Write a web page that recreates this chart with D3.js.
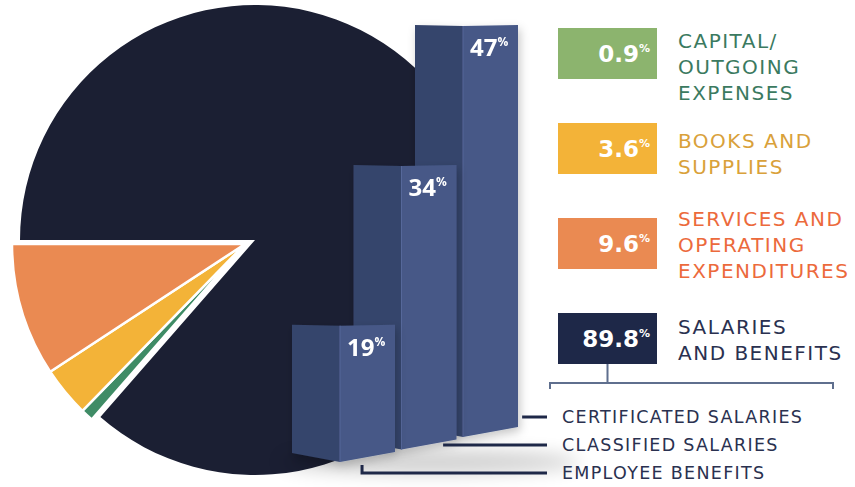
<!DOCTYPE html>
<html><head><meta charset="utf-8">
<script src="https://cdn.jsdelivr.net/npm/d3@7"></script>
<style>html,body{margin:0;padding:0;background:#fff;} svg{display:block}</style>
</head><body>
<svg id="chart" width="855" height="487"></svg>
<script>
// ---------- data ----------
const pieCategories = ["Capital/Outgoing Expenses", "Books and Supplies", "Services and Operating Expenditures", "Salaries and Benefits"];
const pieValues = [0.9, 3.6, 9.6, 89.8];
const pieLabels = [["CAPITAL/", "OUTGOING", "EXPENSES"], ["BOOKS AND", "SUPPLIES"], ["SERVICES AND", "OPERATING", "EXPENDITURES"], ["SALARIES", "AND BENEFITS"]];
const pieColors = ["#3f8c66", "#f3b338", "#ea8a52", "#1b1f33"];
const boxColors = ["#8cb46e", "#f3b338", "#ea8a52", "#1e2848"];
const textColors = ["#3b7a60", "#d9a13a", "#ec6a3c", "#2a3150"];

const barCategories = ["EMPLOYEE BENEFITS", "CLASSIFIED SALARIES", "CERTIFICATED SALARIES"];
const barValues = [19, 34, 47];

// ---------- layout ----------
const svg = d3.select("#chart");
const defs = svg.append("defs");
const sh = defs.append("filter").attr("id", "shadow").attr("x", "-30%").attr("y", "-30%").attr("width", "160%").attr("height", "160%");
sh.append("feDropShadow").attr("dx", 2).attr("dy", 4).attr("stdDeviation", 5).attr("flood-color", "#000").attr("flood-opacity", 0.22);
const blur = defs.append("filter").attr("id", "blur").attr("x", "-50%").attr("y", "-200%").attr("width", "200%").attr("height", "500%");
blur.append("feGaussianBlur").attr("stdDeviation", 9);

// ---------- pie ----------
const total = d3.sum(pieValues);
const smallSum = d3.sum(pieValues.slice(0, 3));
const start = 1.5 * Math.PI - 2 * Math.PI * smallSum / total;
const pie = d3.pie().sort(null).value(d => d).startAngle(start).endAngle(start + 2 * Math.PI);
const arcsData = pie(pieValues);

const darkArc = d3.arc().innerRadius(0).outerRadius(235);
const smallArc = d3.arc().innerRadius(0).outerRadius(233);

svg.append("g").attr("transform", "translate(255,240)")
  .append("path").attr("d", darkArc(arcsData[3])).attr("fill", pieColors[3]);

svg.append("g").attr("transform", "translate(245,244)")
  .selectAll("path").data(arcsData.slice(0, 3)).join("path")
  .attr("d", smallArc).attr("fill", (d, i) => pieColors[i])
  .attr("stroke", "#fff").attr("stroke-width", 2.5).attr("stroke-linejoin", "round");

// ---------- bars ----------
const xScale = d3.scalePoint().domain(barCategories).range([292, 415]);
const baseScale = d3.scalePoint().domain(barCategories).range([462, 437]);
const hScale = d3.scaleLinear().domain([5, 47]).range([0, 412]);
const barW = 103, leftW = 48;

// soft floor shadow
svg.append("ellipse").attr("cx", 430).attr("cy", 462).attr("rx", 150).attr("ry", 12)
  .attr("fill", "#000").attr("opacity", 0.18).attr("filter", "url(#blur)");

const barData = barCategories.map((c, i) => ({ c, v: barValues[i] })).reverse();
const bars = svg.selectAll("g.bar").data(barData).join("g").attr("class", "bar").attr("filter", "url(#shadow)");
bars.each(function (d) {
  const g = d3.select(this);
  const x0 = xScale(d.c), xm = x0 + leftW, x1 = x0 + barW;
  const b = baseScale(d.c), t = b - hScale(d.v);
  g.append("polygon").attr("points", [[x0, t], [xm, t + 1], [xm, b], [x0, b - 9]].join(" ")).attr("fill", "#36456c");
  g.append("polygon").attr("points", [[xm, t + 1], [x1, t], [x1, b - 10], [xm, b]].join(" ")).attr("fill", "#475887");
  g.append("line").attr("x1", xm).attr("x2", xm).attr("y1", t + 1).attr("y2", b).attr("stroke", "#56679a").attr("stroke-width", 1);
  const tx = g.append("text").attr("x", xm + 7).attr("y", t + 31)
    .attr("fill", "#fff").attr("font-family", "'Open Sans', sans-serif").attr("font-weight", 700).attr("font-size", 24);
  tx.append("tspan").text(d.v);
  tx.append("tspan").attr("font-size", 12).attr("dy", -10).text("%");
});

// ---------- bar labels and leader lines ----------
const labelY = d3.scalePoint().domain(barCategories).range([479, 423]);
const leaderFrac = [0.68, 0.87, 1.04];
const navy = "#1e2848";
barCategories.forEach((c, i) => {
  const y = labelY(c) - 6;
  const xs = xScale(c) + barW * leaderFrac[i];
  const p = i === 0 ? `M${xs},${y - 8}V${y}H547` : `M${xs},${y}H547`;
  svg.append("path").attr("d", p).attr("fill", "none").attr("stroke", navy).attr("stroke-width", 3);
  svg.append("text").attr("x", 562).attr("y", labelY(c)).text(c)
    .attr("fill", "#2a3150").attr("font-family", "'DejaVu Sans', sans-serif").attr("font-size", 17.5)
    .attr("letter-spacing", 1.3);
});

// ---------- legend ----------
const legY = d3.scalePoint().domain(pieCategories).range([28, 313]);
const textOffset = [20, 25, 8, 21];
const boxH = 51, boxX = 558, boxW = 99;
pieCategories.forEach((c, i) => {
  const top = legY(c);
  svg.append("rect").attr("x", boxX).attr("y", top).attr("width", boxW).attr("height", boxH).attr("fill", boxColors[i]);
  const vt = svg.append("text").attr("x", 650).attr("y", top + 34).attr("text-anchor", "end")
    .attr("fill", "#fff").attr("font-family", "'DejaVu Sans', sans-serif").attr("font-weight", 700).attr("font-size", 23);
  vt.append("tspan").text(pieValues[i]);
  vt.append("tspan").attr("font-size", 11).attr("dy", -10).text("%");
  pieLabels[i].forEach((line, k) => {
    svg.append("text").attr("x", 678).attr("y", top + textOffset[i] + k * 26).text(line)
      .attr("fill", textColors[i]).attr("font-family", "'DejaVu Sans', sans-serif").attr("font-size", 20)
      .attr("letter-spacing", 1.5);
  });
});

// bracket under salaries box
const sTop = legY(pieCategories[3]);
const bx = boxX + boxW / 2, by = 383;
svg.append("path").attr("d", `M${bx},${sTop + boxH}V${by}M550,${by + 6}V${by}H833V${by + 6}`)
  .attr("fill", "none").attr("stroke", "#5f6f8e").attr("stroke-width", 2);
</script>
</body></html>
